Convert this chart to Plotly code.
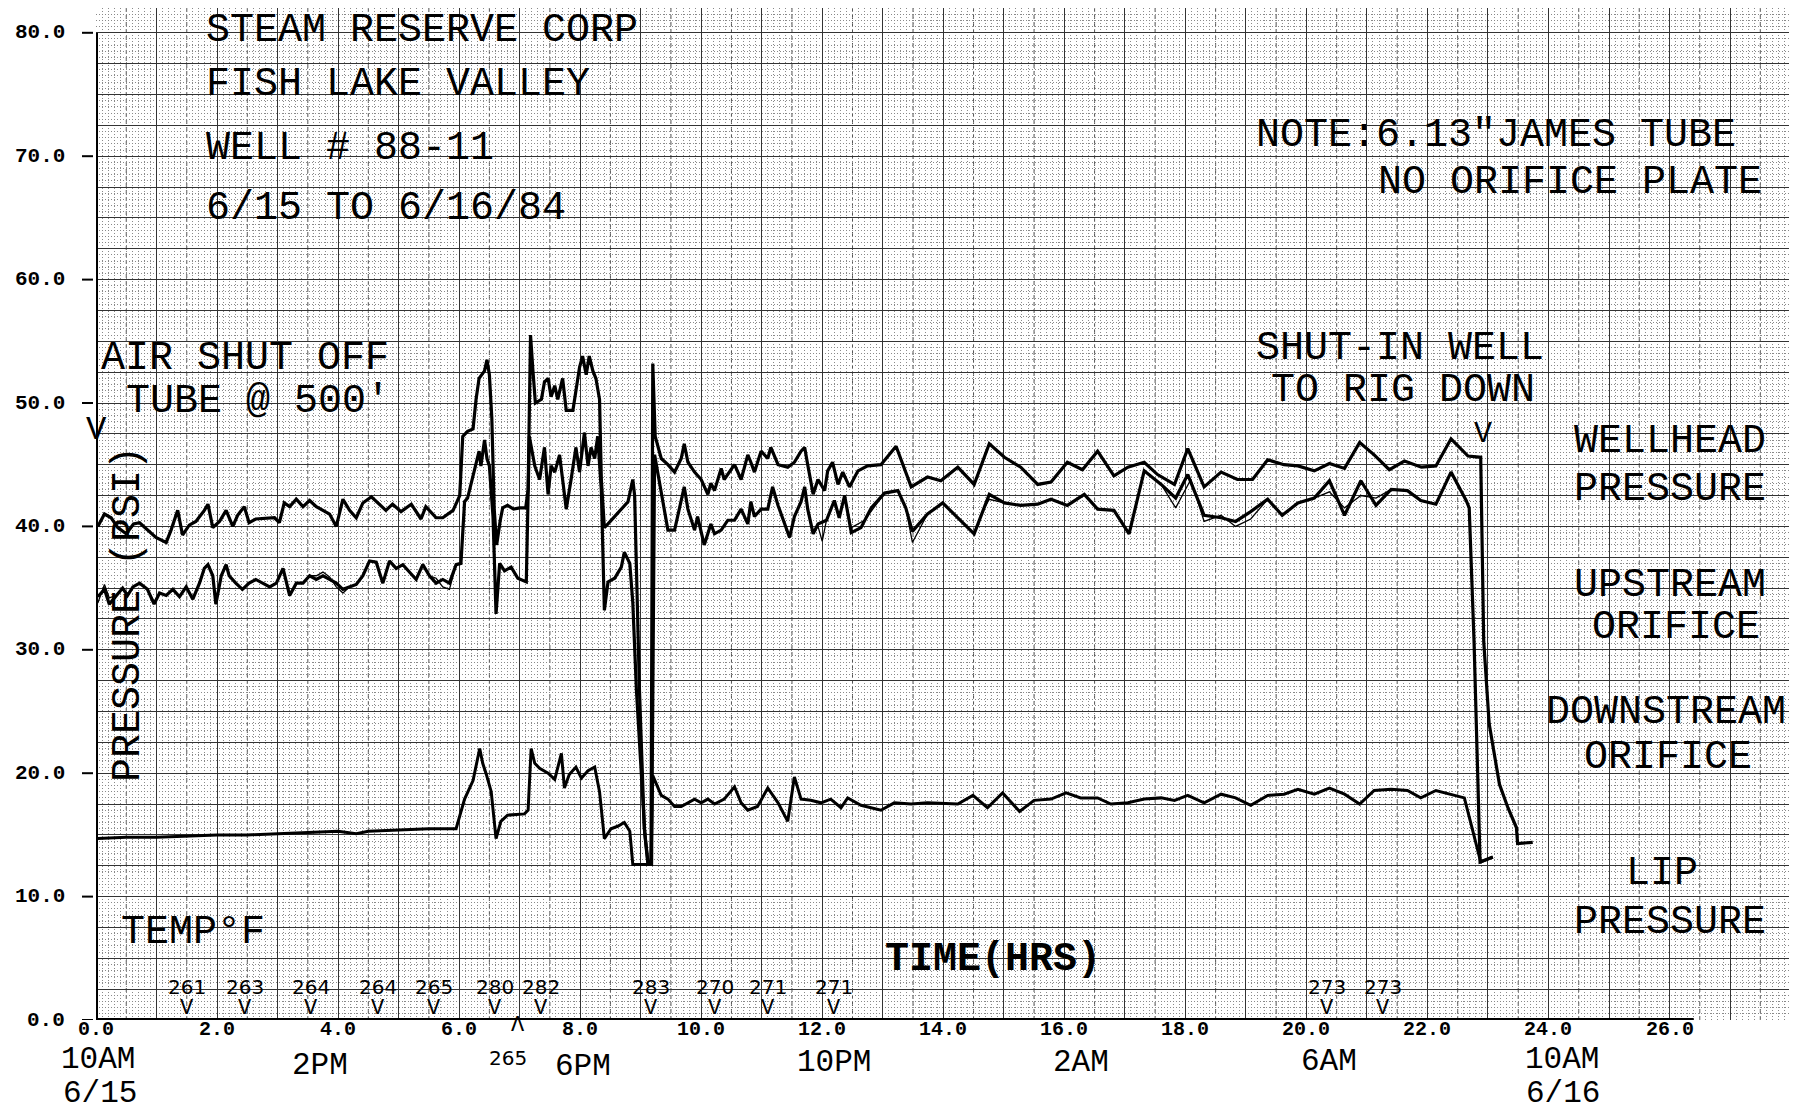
import plotly.graph_objects as go

# ---------------- data (hours since 10AM 6/15, psi) ----------------
wellhead_x = [0.03, 0.14, 0.25, 0.36, 0.50, 0.62, 0.72, 0.85, 0.99, 1.16, 1.24, 1.35, 1.43, 1.54, 1.65, 1.79, 1.85,
              1.93, 2.04, 2.15, 2.26, 2.34, 2.45, 2.53, 2.64, 2.95, 3.03, 3.11, 3.20, 3.31, 3.42, 3.53, 3.64, 3.86,
              3.97, 4.08, 4.19, 4.30, 4.41, 4.55, 4.68, 4.79, 4.90, 5.04, 5.21, 5.37, 5.45, 5.62, 5.73, 5.90, 6.01,
              6.06, 6.14, 6.23, 6.28, 6.33, 6.42, 6.46, 6.50, 6.54, 6.58, 6.62, 6.68, 6.72, 6.80, 6.90, 7.00, 7.10,
              7.14, 7.18, 7.22, 7.26, 7.36, 7.41, 7.47, 7.52, 7.58, 7.63, 7.71, 7.77, 7.88, 7.93, 7.99, 8.04, 8.10,
              8.15, 8.21, 8.26, 8.32, 8.35, 8.40, 8.46, 8.57, 8.68, 8.79, 8.87, 8.90, 8.98, 9.06, 9.12, 9.17, 9.20,
              9.24, 9.34, 9.45, 9.56, 9.67, 9.72, 9.78, 9.89, 10.00, 10.11, 10.16, 10.22, 10.33, 10.38, 10.47, 10.55,
              10.66, 10.77, 10.82, 10.88, 10.99, 11.10, 11.15, 11.27, 11.43, 11.54, 11.65, 11.71, 11.76, 11.85, 11.93,
              12.04, 12.09, 12.17, 12.26, 12.34, 12.45, 12.59, 12.75, 12.97, 13.22, 13.47, 13.74, 13.96, 14.24, 14.51,
              14.76, 15.01, 15.28, 15.56, 15.78, 16.05, 16.30, 16.55, 16.82, 17.05, 17.32, 17.54, 17.82, 18.04, 18.31,
              18.59, 18.86, 19.11, 19.36, 19.63, 19.86, 20.13, 20.38, 20.63, 20.88, 21.12, 21.37, 21.62, 21.90, 22.14,
              22.39, 22.67, 22.88, 22.93, 23.02, 23.19, 23.33, 23.47, 23.49, 23.74]
wellhead_y = [40.0, 41.0, 40.7, 39.9, 39.4, 40.2, 40.3, 39.7, 39.1, 38.7, 39.7, 41.3, 39.3, 40.1, 40.4, 41.3, 41.8,
              39.9, 40.4, 41.3, 40.0, 40.9, 41.6, 40.3, 40.6, 40.7, 40.3, 41.9, 41.6, 42.2, 41.6, 42.1, 41.6, 41.0,
              40.0, 42.2, 41.3, 40.7, 41.9, 42.4, 41.8, 41.3, 41.8, 41.2, 41.8, 40.6, 41.6, 40.7, 40.7, 41.3, 42.5,
              47.3, 47.7, 47.9, 50.3, 52.0, 52.6, 53.5, 52.3, 48.8, 41.4, 38.5, 40.5, 41.5, 41.7, 41.4, 41.5, 41.5,
              43.0, 55.5, 52.6, 50.0, 50.3, 51.7, 52.0, 50.5, 51.4, 50.3, 52.0, 49.4, 49.4, 51.1, 52.9, 53.8, 52.3,
              53.8, 52.6, 52.0, 50.3, 43.8, 39.9, 40.2, 40.8, 41.4, 42.0, 43.8, 42.5, 26.7, 15.5, 12.8, 12.6, 53.2,
              47.3, 45.5, 45.0, 44.4, 45.5, 46.7, 45.2, 44.4, 43.8, 42.6, 43.5, 42.9, 44.7, 43.8, 44.4, 45.0,
              43.8, 45.8, 45.2, 44.4, 46.1, 45.5, 46.4, 45.0, 44.8, 45.2, 46.1, 46.4, 45.0, 42.6, 43.8,
              42.9, 44.5, 45.2, 43.4, 44.4, 43.2, 44.5, 44.9, 45.0, 46.5, 43.2, 44.0, 43.7, 44.8, 43.4,
              46.7, 45.6, 44.8, 43.4, 43.6, 45.2, 44.6, 46.1, 44.1, 44.8, 45.2, 44.2, 43.4, 46.3, 43.2,
              44.4, 43.8, 43.8, 45.4, 45.0, 44.9, 44.5, 45.1, 44.7, 46.8, 45.8, 44.6, 45.3, 44.8, 44.9,
              47.1, 45.7, 45.6, 30.7, 24.0, 19.1, 17.2, 15.6, 14.3, 14.4]

upstream_x = [0.03, 0.14, 0.22, 0.33, 0.44, 0.52, 0.61, 0.72, 0.85, 0.96, 1.05, 1.16, 1.27, 1.38, 1.49, 1.60, 1.71,
              1.79, 1.85, 1.93, 1.98, 2.07, 2.15, 2.20, 2.31, 2.42, 2.53, 2.64, 2.75, 2.87, 2.98, 3.09, 3.20, 3.31,
              3.42, 3.53, 3.64, 3.75, 3.86, 3.97, 4.08, 4.19, 4.30, 4.41, 4.52, 4.63, 4.74, 4.85, 4.96, 5.07, 5.18,
              5.29, 5.40, 5.51, 5.62, 5.73, 5.84, 5.95, 6.03, 6.09, 6.14, 6.25, 6.33, 6.36, 6.42, 6.46, 6.50, 6.56,
              6.61, 6.67, 6.75, 6.86, 6.97, 7.11, 7.16, 7.25, 7.33, 7.41, 7.47, 7.52, 7.58, 7.66, 7.71, 7.77, 7.85,
              7.93, 7.99, 8.07, 8.13, 8.18, 8.24, 8.29, 8.35, 8.40, 8.46, 8.57, 8.68, 8.73, 8.82, 8.87, 8.93, 9.07,
              9.12, 9.18, 9.23, 9.34, 9.45, 9.56, 9.67, 9.72, 9.78, 9.89, 9.94, 10.05, 10.16, 10.22, 10.33, 10.44,
              10.55, 10.66, 10.77, 10.82, 10.88, 10.99, 11.10, 11.18, 11.27, 11.38, 11.46, 11.54, 11.65, 11.71, 11.76,
              11.85, 11.93, 12.07, 12.20, 12.28, 12.37, 12.48, 12.64, 12.81, 13.03, 13.25, 13.38, 13.49, 13.74, 13.99,
              14.24, 14.51, 14.76, 15.01, 15.28, 15.56, 15.78, 16.05, 16.33, 16.55, 16.82, 17.07, 17.32, 17.60, 17.84,
              18.04, 18.31, 18.59, 18.83, 19.08, 19.36, 19.60, 19.86, 20.13, 20.38, 20.63, 20.90, 21.15, 21.40, 21.67,
              21.89, 22.14, 22.39, 22.64, 22.69, 22.77, 22.87, 23.08]
upstream_y = [34.3, 34.9, 33.7, 34.4, 35.0, 34.4, 35.1, 35.4, 34.9, 33.7, 34.6, 34.4, 34.9, 34.3, 35.1, 34.1, 35.4,
              36.6, 36.9, 36.0, 33.7, 36.0, 36.9, 36.0, 35.4, 34.9, 35.4, 35.7, 35.4, 35.1, 35.4, 36.6, 34.4, 35.4,
              35.4, 36.0, 35.7, 36.0, 35.7, 35.4, 34.9, 35.1, 35.3, 36.0, 37.2, 37.1, 35.4, 37.2, 36.6, 36.9, 36.3,
              35.7, 36.9, 36.0, 35.4, 35.7, 35.4, 36.9, 37.0, 42.0, 42.3, 44.4, 46.1, 44.9, 47.0, 45.5, 44.9, 40.8,
              32.9, 37.0, 36.4, 36.7, 35.8, 35.5, 47.3, 44.9, 43.8, 46.4, 42.6, 44.9, 44.4, 45.8, 43.8, 41.4, 43.8,
              46.4, 44.4, 47.6, 44.9, 46.4, 45.5, 47.3, 42.9, 33.2, 35.5, 35.8, 36.7, 37.9, 37.0, 33.8, 26.7, 15.0,
              12.6, 12.6, 45.8, 42.9, 39.7, 39.7, 42.0, 43.2, 41.4, 39.7, 40.8, 38.5, 40.2, 39.4, 39.7, 40.5,
              40.5, 41.4, 40.2, 42.0, 40.8, 41.4, 41.4, 43.2, 41.7, 40.2, 39.1, 40.8, 42.0, 43.2, 41.4,
              39.4, 40.2, 40.5, 42.1, 40.7, 42.5, 39.5, 39.9, 41.5, 42.7, 42.9, 41.5, 39.6, 41.0, 41.9,
              40.7, 39.4, 42.6, 41.9, 41.7, 41.8, 42.2, 41.7, 42.6, 41.4, 41.3, 39.4, 44.5, 43.4, 42.3,
              44.2, 40.9, 40.7, 40.4, 41.2, 42.2, 40.9, 41.9, 42.3, 43.7, 40.9, 43.7, 41.7, 43.0, 42.9,
              42.1, 41.8, 44.4, 42.1, 41.5, 30.7, 12.8, 13.2]

downstream_x = [0.03, 0.14, 0.22, 0.33, 0.44, 0.52, 0.61, 0.72, 0.85, 0.96, 1.05, 1.16, 1.27, 1.38, 1.49, 1.60, 1.71,
                1.79, 1.85, 1.93, 1.98, 2.07, 2.15, 2.20, 2.31, 2.42, 2.53, 2.64, 2.75, 2.87, 2.98, 3.09, 3.20, 3.31,
                3.42, 3.53, 3.64, 3.75, 3.86, 3.97, 4.08, 4.19, 4.30, 4.41, 4.52, 4.63, 4.74, 4.85, 4.96, 5.07, 5.18,
                5.29, 5.40, 5.51, 5.62, 5.73, 5.84, 5.95, 6.03, 6.09, 6.14, 6.25, 6.33, 6.36, 6.42, 6.46, 6.50, 6.56,
                6.61, 6.67, 6.75, 6.86, 6.97, 7.11, 7.16, 7.25, 7.33, 7.41, 7.47, 7.52, 7.58, 7.66, 7.71, 7.77, 7.85,
                7.93, 7.99, 8.07, 8.13, 8.18, 8.24, 8.29, 8.35, 8.40, 8.46, 8.57, 8.68, 8.73, 8.82, 8.87, 8.93, 9.07,
                9.12, 9.18, 9.23, 9.34, 9.45, 9.56, 9.67, 9.72, 9.78, 9.89, 9.94, 10.05, 10.16, 10.22, 10.33, 10.44,
                10.55, 10.66, 10.77, 10.82, 10.88, 10.99, 11.10, 11.18, 11.27, 11.38, 11.46, 11.54, 11.65, 11.71, 11.76,
                11.85, 11.93, 12.00, 12.07, 12.20, 12.28, 12.37, 12.48, 12.70, 13.03, 13.25, 13.38, 13.49, 13.74, 13.99,
                14.24, 14.51, 14.68, 14.76, 15.01, 15.28, 15.56, 15.78, 16.05, 16.33, 16.55, 16.82, 17.07, 17.32, 17.60,
                17.84, 18.09, 18.31, 18.59, 18.83, 19.08, 19.36, 19.60, 19.86, 20.13, 20.38, 20.63, 20.90, 21.15, 21.40,
                21.67, 21.89, 22.14, 22.39, 22.64, 22.69, 22.77, 22.87, 23.08]
downstream_y = [33.8, 35.3, 34.2, 34.4, 35.0, 34.4, 35.1, 35.4, 34.9, 33.9, 34.6, 34.4, 34.9, 34.3, 35.1, 34.1, 35.4,
                36.6, 36.9, 36.0, 33.7, 36.0, 36.9, 36.0, 35.4, 34.9, 35.4, 35.7, 35.4, 35.1, 35.4, 36.6, 34.4, 35.4,
                35.4, 36.0, 36.0, 36.3, 35.9, 35.1, 34.6, 35.1, 35.3, 36.0, 37.2, 37.1, 35.4, 37.2, 36.6, 36.9, 36.3,
                35.7, 36.9, 36.0, 35.8, 35.1, 34.9, 36.9, 37.0, 42.0, 42.3, 44.4, 46.1, 44.9, 47.0, 45.5, 44.9, 40.8,
                32.9, 37.0, 36.4, 36.7, 35.8, 35.5, 47.3, 44.9, 43.8, 46.4, 42.6, 44.9, 44.4, 45.8, 43.8, 41.4, 43.8,
                46.4, 44.4, 47.6, 44.9, 46.4, 45.5, 47.3, 42.9, 33.2, 35.5, 35.8, 36.7, 37.9, 37.0, 33.8, 26.7, 15.0,
                12.6, 12.6, 45.8, 42.9, 39.7, 39.7, 42.0, 43.2, 41.4, 39.7, 40.8, 38.5, 40.2, 39.4, 39.7, 40.5,
                40.5, 41.4, 40.2, 42.0, 40.8, 41.4, 41.4, 43.2, 41.7, 40.2, 39.1, 40.8, 42.0, 43.2, 41.4,
                39.4, 40.0, 38.8, 40.5, 42.1, 40.7, 42.5, 39.9, 40.5, 42.7, 42.9, 41.5, 38.7, 41.0, 41.9,
                40.7, 39.4, 41.5, 42.2, 41.9, 41.7, 41.8, 42.2, 41.7, 42.6, 41.4, 41.3, 39.4, 44.5, 43.4,
                41.5, 43.8, 40.4, 40.9, 40.0, 40.6, 42.2, 40.9, 41.9, 42.3, 42.8, 41.5, 42.5, 42.3, 43.0,
                42.9, 42.1, 41.8, 44.4, 42.1, 41.5, 30.7, 12.8, 13.2]

lip_x = [0.03, 0.50, 1.00, 1.50, 2.00, 2.50, 3.00, 3.50, 4.00, 4.30, 4.50, 5.00, 5.50, 5.95, 6.09, 6.23, 6.34, 6.39,
         6.45, 6.53, 6.61, 6.69, 6.80, 7.08, 7.14, 7.19, 7.25, 7.33, 7.47, 7.58, 7.69, 7.74, 7.82, 7.93, 8.02, 8.13,
         8.24, 8.32, 8.40, 8.51, 8.62, 8.73, 8.82, 8.87, 9.17, 9.20, 9.34, 9.45, 9.56, 9.67, 9.78, 9.89, 10.00,
         10.11, 10.22, 10.38, 10.55, 10.66, 10.77, 10.93, 11.10, 11.27, 11.43, 11.54, 11.65, 11.81, 11.98, 12.14,
         12.31, 12.42, 12.64, 12.97, 13.19, 13.47, 13.74, 14.24, 14.49, 14.73, 14.98, 15.26, 15.50, 15.78, 16.03,
         16.27, 16.55, 16.77, 17.05, 17.32, 17.60, 17.82, 18.04, 18.31, 18.59, 18.83, 19.08, 19.36, 19.63, 19.86,
         20.13, 20.38, 20.63, 20.88, 21.12, 21.40, 21.67, 21.89, 22.14, 22.39, 22.61, 22.72, 22.88, 23.08]
lip_y = [14.7, 14.8, 14.8, 14.9, 15.0, 15.0, 15.1, 15.2, 15.3, 15.1, 15.3, 15.4, 15.5, 15.5, 17.9, 19.4, 22.0, 20.8,
         19.9, 18.5, 14.7, 16.1, 16.6, 16.7, 17.0, 22.0, 20.8, 20.4, 20.0, 19.5, 21.6, 18.8, 19.9, 20.5, 19.6, 20.2,
         20.5, 18.5, 14.7, 15.5, 15.7, 16.0, 15.3, 12.6, 12.6, 19.8, 18.2, 17.9, 17.3, 17.3, 17.6, 17.9, 17.6,
         17.9, 17.5, 17.9, 18.9, 17.6, 17.0, 17.3, 18.8, 17.6, 16.1, 19.7, 17.9, 17.8, 17.6, 17.9,
         17.2, 18.0, 17.4, 17.0, 17.6, 17.5, 17.6, 17.5, 18.2, 17.2, 18.4, 16.9, 17.8, 17.9, 18.4,
         18.0, 18.0, 17.5, 17.6, 17.9, 18.0, 17.8, 18.2, 17.6, 18.3, 18.0, 17.4, 18.2, 18.3, 18.7,
         18.3, 18.8, 18.3, 17.5, 18.6, 18.7, 18.6, 18.0, 18.6, 18.3, 18.0, 15.9, 12.8, 13.2]

temp_x = [1.50, 2.46, 3.55, 4.66, 5.58, 6.59, 7.35, 9.17, 10.23, 11.10, 12.19, 20.34, 21.26]
temp_labels = ["261", "263", "264", "264", "265", "280", "282", "283", "270", "271", "271", "273", "273"]
temp_below_x = [6.98]
temp_below_labels = ["265"]

x_label_vals = [0, 2, 4, 6, 8, 10, 12, 14, 16, 18, 20, 22, 24, 26]
x_label_text = ["0.0", "2.0", "4.0", "6.0", "8.0", "10.0", "12.0", "14.0", "16.0", "18.0", "20.0", "22.0",
                "24.0", "26.0"]
y_label_vals = [0, 10, 20, 30, 40, 50, 60, 70, 80]
y_label_text = ["0.0", "10.0", "20.0", "30.0", "40.0", "50.0", "60.0", "70.0", "80.0"]

time_labels = ["10AM", "2PM", "6PM", "10PM", "2AM", "6AM", "10AM"]
time_x = [0.03, 3.70, 8.05, 12.20, 16.28, 20.38, 24.22]
date_labels = ["6/15", "6/16"]
date_x = [0.06, 24.24]

FONT = "Liberation Mono, DejaVu Sans Mono, monospace"
NARROW = "Liberation Sans Narrow, DejaVu Sans, sans-serif"

W, H = 1797, 1109
ML, MB = 88, 97
PW, PH = W - ML, H - MB
XMAX = PW / 60.52
YMAX = PH / 12.34


def py(Y):
    """paper y for a pixel row measured from the top of the figure"""
    return (PH - Y) / PH


def px(xd):
    """paper x for an hour value"""
    return xd / XMAX


fig = go.Figure()
series = [
    (wellhead_x, wellhead_y, 3.2),
    (upstream_x, upstream_y, 3.2),
    (lip_x, lip_y, 3.0),
    (downstream_x, downstream_y, 1.3),
]
for xs, ys, w in series:
    fig.add_trace(go.Scatter(x=xs, y=ys, mode="lines", line=dict(color="black", width=w),
                             showlegend=False, hoverinfo="skip"))

fig.update_layout(
    width=W, height=H,
    margin=dict(l=ML, r=0, t=0, b=MB),
    plot_bgcolor="white", paper_bgcolor="white",
    showlegend=False,
)
fig.update_xaxes(
    range=[0, XMAX], tickmode="linear", tick0=0, dtick=1,
    ticks="", showticklabels=False, showline=False, zeroline=False,
    showgrid=True, gridcolor="#333333", gridwidth=1,
    minor=dict(tick0=0, dtick=0.1, showgrid=True, gridcolor="#8a8a8a", griddash="1px,2px", gridwidth=1),
)
fig.update_yaxes(
    range=[0, YMAX], tickmode="linear", tick0=0, dtick=2.5,
    ticks="", showticklabels=False, showline=False, zeroline=False,
    showgrid=True, gridcolor="#333333", gridwidth=1,
    minor=dict(tick0=0, dtick=0.5, showgrid=True, gridcolor="#8a8a8a", griddash="1px,2px", gridwidth=1),
)

# dashed half-hour paper lines
for h in range(0, 28):
    fig.add_shape(type="line", xref="x", yref="paper", x0=h + 0.5, x1=h + 0.5, y0=0, y1=1,
                  line=dict(color="#555555", width=1, dash="4px,3px"), layer="below")

# thick axes
fig.add_shape(type="line", xref="x", yref="y", x0=0, x1=0, y0=0, y1=80, line=dict(color="black", width=4))
fig.add_shape(type="line", xref="x", yref="y", x0=0, x1=26.4, y0=0, y1=0, line=dict(color="black", width=4))
for v in y_label_vals:
    fig.add_shape(type="line", xref="paper", yref="y", x0=-14 / PW, x1=-3 / PW, y0=v, y1=v,
                  line=dict(color="black", width=2))


def txt(x, y, s, size=40, xanchor="left", bold=False, angle=0, yref="y", family=FONT, xref="x"):
    fig.add_annotation(x=x, y=y, xref=xref, yref=yref, text=s, showarrow=False,
                       xanchor=xanchor, yanchor="middle", textangle=angle, borderpad=0,
                       font=dict(family=family, size=size, color="black", weight="bold" if bold else "normal"))


# axis tick labels
for v, t in zip(y_label_vals, y_label_text):
    fig.add_annotation(x=(58 - ML) / PW, y=v, xref="paper", yref="y", text=t, showarrow=False,
                       xanchor="right", yanchor="middle", borderpad=0,
                       font=dict(family=FONT, size=21, color="black", weight="bold"))
for v, t in zip(x_label_vals, x_label_text):
    txt(v, py(1021), t, size=20, xanchor="center", bold=True, yref="paper")

txt(1.80, 80.15, "STEAM RESERVE CORP")
txt(1.80, 75.8, "FISH LAKE VALLEY")
txt(1.80, 70.6, "WELL # 88-11")
txt(1.80, 65.8, "6/15 TO 6/16/84")
txt(19.15, 71.7, 'NOTE:6.13"JAMES TUBE')
txt(21.17, 67.9, "NO ORIFICE PLATE")
txt(0.06, 53.6, "AIR SHUT OFF")
txt(0.48, 50.1, "TUBE @ 500'")
txt(0.0, 47.8, "V", size=34, xanchor="center")
txt(0.53, 32.9, "PRESSURE (PSI)", xanchor="center", angle=-90)
txt(19.15, 54.4, "SHUT-IN WELL")
txt(19.40, 51.0, "TO RIG DOWN")
txt(22.92, 47.5, "V", size=30, xanchor="center")
txt(26.0, 46.9, "WELLHEAD", xanchor="center")
txt(26.0, 43.0, "PRESSURE", xanchor="center")
txt(26.0, 35.2, "UPSTREAM", xanchor="center")
txt(26.1, 31.8, "ORIFICE", xanchor="center")
txt(25.95, 24.9, "DOWNSTREAM", xanchor="center")
txt(25.98, 21.3, "ORIFICE", xanchor="center")
txt(25.88, 11.9, "LIP", xanchor="center")
txt(26.0, 7.9, "PRESSURE", xanchor="center")
txt(0.40, 7.1, "TEMP°F")
txt(13.02, 4.9, "TIME(HRS)", bold=True)

for tx, tl in zip(temp_x, temp_labels):
    txt(tx, 2.7, tl, size=20, xanchor="center", family=NARROW)
    txt(tx, 0.95, "V", size=22, xanchor="center")
for tx, tl in zip(temp_below_x, temp_below_labels):
    txt(tx - 0.18, py(1050), tl, size=20, xanchor="center", yref="paper", family=NARROW)
    txt(tx, py(1017), "Λ", size=22, xanchor="center", yref="paper")

time_Y = [1051, 1057, 1058, 1054, 1054, 1053, 1051]
date_Y = [1085, 1085]
for tx, tl, ty in zip(time_x, time_labels, time_Y):
    txt(px(tx), py(ty), tl, size=31, xanchor="center", yref="paper", xref="paper")
for tx, tl, ty in zip(date_x, date_labels, date_Y):
    txt(px(tx), py(ty), tl, size=31, xanchor="center", yref="paper", xref="paper")

fig.write_html("out.html")
